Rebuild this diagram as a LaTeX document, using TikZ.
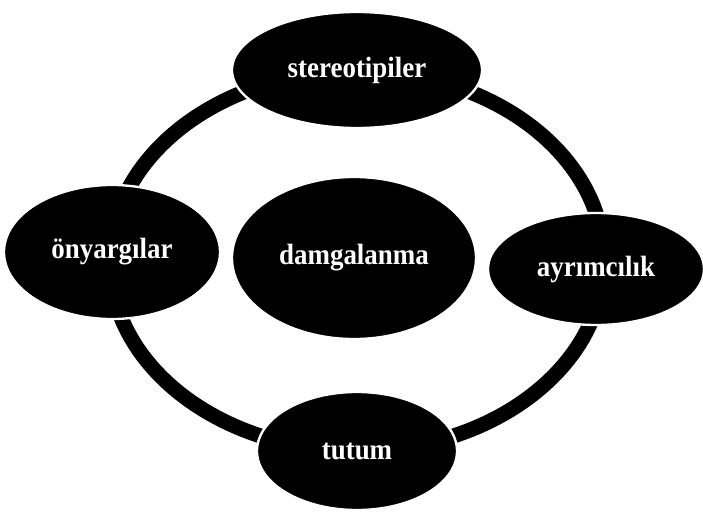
\documentclass[tikz,border=0pt]{standalone}
\usepackage{fontspec}
\setmainfont{Liberation Serif}
\newfontfamily\blobfont{Liberation Serif}[FakeStretch=0.92]
\usepackage{xcolor}
\usepackage{tikz}
\usetikzlibrary{shapes.geometric}

\begin{document}
\begin{tikzpicture}[x=0.03cm,y=-0.03cm,
  blob/.style={ellipse,fill=black,draw=white,line width=0.07cm,inner sep=0pt,
    text=white,font=\blobfont\fontsize{25}{27}\selectfont\bfseries}]
  \useasboundingbox (0,0) rectangle (703,513);
  % the ring behind everything
  \coordinate (ringc) at (357,261);
  \draw[black,line width=0.45cm] (ringc) ellipse [x radius=247,y radius=190];
  % outer terms
  \node[blob,minimum width=7.5cm,minimum height=3.48cm] (stereo) at (357,70) {stereotipiler};
  \node[blob,minimum width=6.48cm,minimum height=4.02cm] (onyargi) at (112,252) {önyargılar};
  \node[blob,minimum width=6.48cm,minimum height=3.36cm] (ayrim) at (596,269) {ayrımcılık};
  \node[blob,minimum width=6cm,minimum height=3.54cm] (tutum) at (357,451) {tutum};
  % the middle one
  \node[blob,minimum width=7.32cm,minimum height=4.86cm] (damga) at (354,258) {damgalanma};
\end{tikzpicture}
\end{document}
